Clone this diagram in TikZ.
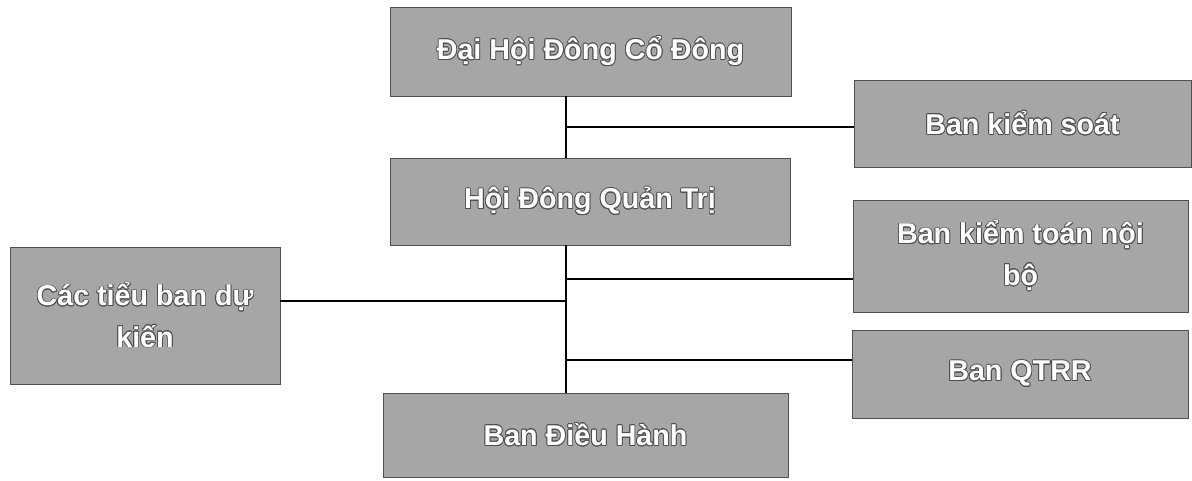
\documentclass[tikz,border=0pt]{standalone}
\usepackage{fontspec}
\setmainfont{Liberation Sans}
\usepackage[copies]{contour}
\usepackage{tikz}
\contourlength{0.6pt}
\definecolor{boxgray}{RGB}{166,166,166}
\definecolor{rimgray}{RGB}{80,80,80}
\newcommand{\unittext}[1]{\contour{rimgray}{#1}}

\begin{document}
\begin{tikzpicture}[x=0.75pt,y=0.75pt,yscale=-1,xscale=1,
  unit/.style={draw=rimgray,line width=0.6pt,fill=boxgray,text=white,align=center,inner sep=0pt,
    font=\bfseries\fontsize{21.5}{31}\selectfont},
  link/.style={draw=black,line width=1.1pt}]
\useasboundingbox (0,0) rectangle (1192,481);

%Shape: Rectangle [Dai Hoi Dong Co Dong]
\node [unit,minimum width=401*0.75pt,minimum height=89*0.75pt] (dhcd) at (590.5,51.5) {\unittext{Đại Hội Đông Cổ Đông}};
%Shape: Rectangle [Hoi Dong Quan Tri]
\node [unit,minimum width=400*0.75pt,minimum height=87*0.75pt] (hdqt) at (590,201.5) {\unittext{Hội Đông Quản Trị}};
%Shape: Rectangle [Ban Dieu Hanh]
\node [unit,minimum width=405*0.75pt,minimum height=84*0.75pt] (bdh) at (585.5,435) {\unittext{Ban Điều Hành}};
%Shape: Rectangle [Ban kiem soat]
\node [unit,minimum width=337*0.75pt,minimum height=87*0.75pt] (bks) at (1022.5,123.5) {\unittext{Ban kiểm soát}};
%Shape: Rectangle [Ban kiem toan noi bo]
\node [unit,minimum width=335*0.75pt,minimum height=112*0.75pt] (bktnb) at (1020.5,256) {\unittext{Ban kiểm toán nội}\\\unittext{bộ}};
%Shape: Rectangle [Ban QTRR]
\node [unit,minimum width=336*0.75pt,minimum height=88*0.75pt] (qtrr) at (1020,374) {\unittext{Ban QTRR}};
%Shape: Rectangle [Cac tieu ban du kien]
\node [unit,minimum width=270*0.75pt,minimum height=137*0.75pt] (ctb) at (145,315.5) {\unittext{Các tiểu ban dự}\\\unittext{kiến}};

%Junctions on the trunk
\coordinate (trunk) at (566,0);
\coordinate (jBks) at (566,127);
\coordinate (jBktnb) at (566,279);
\coordinate (jCtb) at (566,301);
\coordinate (jQtrr) at (566,360);

%Straight Lines [trunk]
\draw [link] (trunk |- dhcd.south) -- (trunk |- hdqt.north);
\draw [link] (trunk |- hdqt.south) -- (trunk |- bdh.north);
%Straight Lines [branches]
\draw [link] (jBks) -- (jBks -| bks.west);
\draw [link] (jBktnb) -- (jBktnb -| bktnb.west);
\draw [link] (jQtrr) -- (jQtrr -| qtrr.west);
\draw [link] (jCtb -| ctb.east) -- (jCtb);

\end{tikzpicture}
\end{document}
